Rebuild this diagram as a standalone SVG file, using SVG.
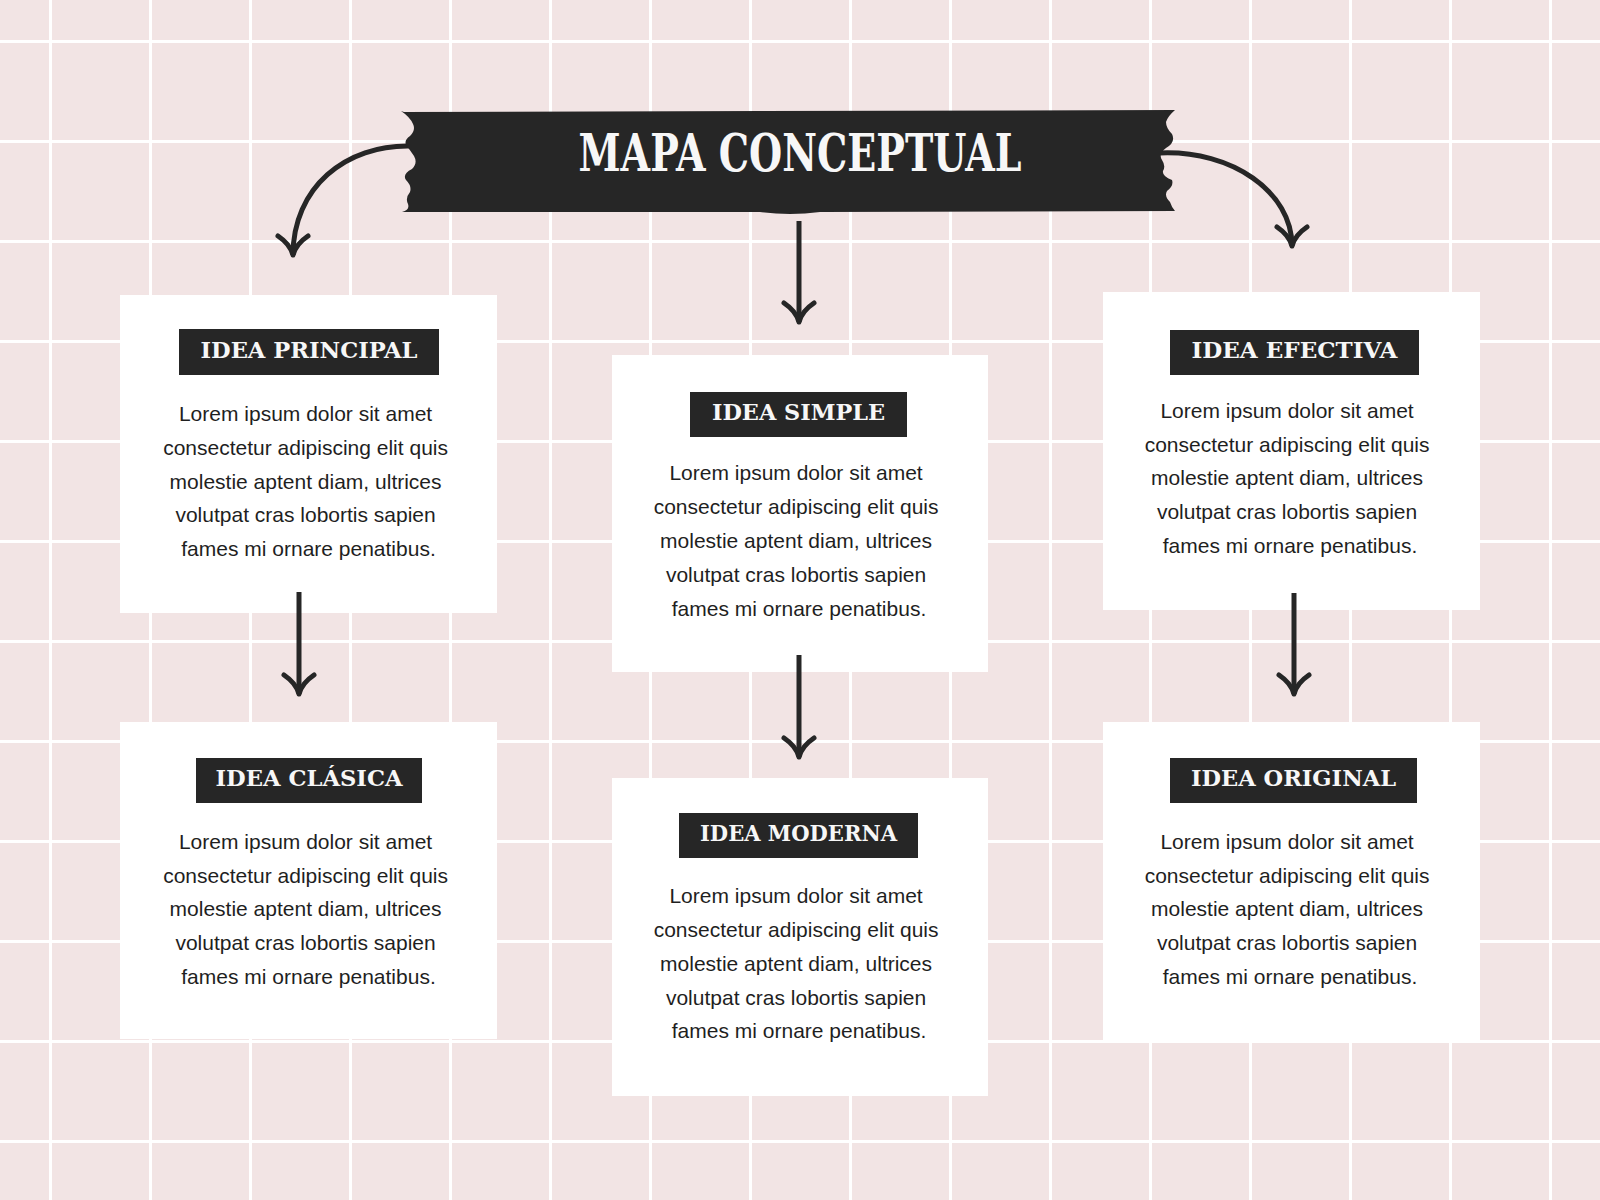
<svg xmlns="http://www.w3.org/2000/svg" width="1600" height="1200" viewBox="0 0 1600 1200">
  <style>
    .bg { fill: #F2E4E4; }
    .grid line { stroke: #FFFFFF; stroke-width: 3; }
    .card { fill: #FFFFFF; }
    .tag { fill: #262626; }
    .tagtext { font-family: "DejaVu Serif", "Liberation Serif", serif; font-weight: bold; font-size: 23px; fill: #F7F7F7; text-anchor: middle; }
    .body { font-family: "Liberation Sans", Arial, sans-serif; font-size: 21px; fill: #1F1F1F; text-anchor: middle; }
    .title { font-family: "DejaVu Serif", "Liberation Serif", serif; font-weight: bold; font-size: 52px; fill: #F7F7F7; text-anchor: middle; }
    .conn { fill: none; stroke: #262626; stroke-width: 5; stroke-linecap: butt; }
  </style>
  <defs>
    <marker id="head" markerUnits="userSpaceOnUse" markerWidth="40" markerHeight="40" viewBox="-24 -20 30 40" refX="0" refY="0" orient="auto">
      <path d="M -19 -15 Q -11 -3 0 0 Q -11 3 -19 15" fill="none" stroke="#262626" stroke-width="5" stroke-linecap="round" stroke-linejoin="round"/>
    </marker>
  </defs>

  <rect class="bg" x="0" y="0" width="1600" height="1200"/>

  <g class="grid">
    <line x1="50.5" y1="0" x2="50.5" y2="1200"/>
    <line x1="150.5" y1="0" x2="150.5" y2="1200"/>
    <line x1="250.5" y1="0" x2="250.5" y2="1200"/>
    <line x1="350.5" y1="0" x2="350.5" y2="1200"/>
    <line x1="450.5" y1="0" x2="450.5" y2="1200"/>
    <line x1="550.5" y1="0" x2="550.5" y2="1200"/>
    <line x1="650.5" y1="0" x2="650.5" y2="1200"/>
    <line x1="750.5" y1="0" x2="750.5" y2="1200"/>
    <line x1="850.5" y1="0" x2="850.5" y2="1200"/>
    <line x1="950.5" y1="0" x2="950.5" y2="1200"/>
    <line x1="1050.5" y1="0" x2="1050.5" y2="1200"/>
    <line x1="1150.5" y1="0" x2="1150.5" y2="1200"/>
    <line x1="1250.5" y1="0" x2="1250.5" y2="1200"/>
    <line x1="1350.5" y1="0" x2="1350.5" y2="1200"/>
    <line x1="1450.5" y1="0" x2="1450.5" y2="1200"/>
    <line x1="1550.5" y1="0" x2="1550.5" y2="1200"/>
    <line x1="0" y1="41.5" x2="1600" y2="41.5"/>
    <line x1="0" y1="141.5" x2="1600" y2="141.5"/>
    <line x1="0" y1="241.5" x2="1600" y2="241.5"/>
    <line x1="0" y1="341.5" x2="1600" y2="341.5"/>
    <line x1="0" y1="441.5" x2="1600" y2="441.5"/>
    <line x1="0" y1="541.5" x2="1600" y2="541.5"/>
    <line x1="0" y1="641.5" x2="1600" y2="641.5"/>
    <line x1="0" y1="741.5" x2="1600" y2="741.5"/>
    <line x1="0" y1="841.5" x2="1600" y2="841.5"/>
    <line x1="0" y1="941.5" x2="1600" y2="941.5"/>
    <line x1="0" y1="1041.5" x2="1600" y2="1041.5"/>
    <line x1="0" y1="1141.5" x2="1600" y2="1141.5"/>
  </g>

  <g id="node-principal">
    <rect class="card" x="120" y="295" width="377" height="318"/>
    <rect class="tag" x="179" y="329" width="260" height="46"/>
    <text class="tagtext" x="309" y="358" textLength="217" lengthAdjust="spacingAndGlyphs">IDEA PRINCIPAL</text>
    <text class="body">
      <tspan x="308.5" y="421">Lorem ipsum dolor sit amet</tspan>
      <tspan x="308.5" y="455">consectetur adipiscing elit quis</tspan>
      <tspan x="308.5" y="489">molestie aptent diam, ultrices</tspan>
      <tspan x="308.5" y="522">volutpat cras lobortis sapien</tspan>
      <tspan x="308.5" y="556">fames mi ornare penatibus.</tspan>
    </text>
  </g>

  <g id="node-simple">
    <rect class="card" x="612" y="355" width="376" height="317"/>
    <rect class="tag" x="690" y="392" width="217" height="45"/>
    <text class="tagtext" x="798.5" y="420" textLength="173" lengthAdjust="spacingAndGlyphs">IDEA SIMPLE</text>
    <text class="body">
      <tspan x="799" y="480">Lorem ipsum dolor sit amet</tspan>
      <tspan x="799" y="514">consectetur adipiscing elit quis</tspan>
      <tspan x="799" y="548">molestie aptent diam, ultrices</tspan>
      <tspan x="799" y="582">volutpat cras lobortis sapien</tspan>
      <tspan x="799" y="616">fames mi ornare penatibus.</tspan>
    </text>
  </g>

  <g id="node-efectiva">
    <rect class="card" x="1103" y="292" width="377" height="318"/>
    <rect class="tag" x="1170" y="330" width="249" height="45"/>
    <text class="tagtext" x="1294.5" y="358" textLength="206" lengthAdjust="spacingAndGlyphs">IDEA EFECTIVA</text>
    <text class="body">
      <tspan x="1290" y="418">Lorem ipsum dolor sit amet</tspan>
      <tspan x="1290" y="452">consectetur adipiscing elit quis</tspan>
      <tspan x="1290" y="485">molestie aptent diam, ultrices</tspan>
      <tspan x="1290" y="519">volutpat cras lobortis sapien</tspan>
      <tspan x="1290" y="553">fames mi ornare penatibus.</tspan>
    </text>
  </g>

  <g id="node-clasica">
    <rect class="card" x="120" y="722" width="377" height="317"/>
    <rect class="tag" x="196" y="758" width="226" height="45"/>
    <text class="tagtext" x="309" y="786" textLength="187" lengthAdjust="spacingAndGlyphs">IDEA CLÁSICA</text>
    <text class="body">
      <tspan x="308.5" y="849">Lorem ipsum dolor sit amet</tspan>
      <tspan x="308.5" y="883">consectetur adipiscing elit quis</tspan>
      <tspan x="308.5" y="916">molestie aptent diam, ultrices</tspan>
      <tspan x="308.5" y="950">volutpat cras lobortis sapien</tspan>
      <tspan x="308.5" y="984">fames mi ornare penatibus.</tspan>
    </text>
  </g>

  <g id="node-moderna">
    <rect class="card" x="612" y="778" width="376" height="318"/>
    <rect class="tag" x="679" y="813" width="239" height="45"/>
    <text class="tagtext" x="798.5" y="841" textLength="197" lengthAdjust="spacingAndGlyphs">IDEA MODERNA</text>
    <text class="body">
      <tspan x="799" y="903">Lorem ipsum dolor sit amet</tspan>
      <tspan x="799" y="937">consectetur adipiscing elit quis</tspan>
      <tspan x="799" y="971">molestie aptent diam, ultrices</tspan>
      <tspan x="799" y="1005">volutpat cras lobortis sapien</tspan>
      <tspan x="799" y="1038">fames mi ornare penatibus.</tspan>
    </text>
  </g>

  <g id="node-original">
    <rect class="card" x="1103" y="722" width="377" height="318"/>
    <rect class="tag" x="1170" y="758" width="247" height="45"/>
    <text class="tagtext" x="1293.5" y="786" textLength="205" lengthAdjust="spacingAndGlyphs">IDEA ORIGINAL</text>
    <text class="body">
      <tspan x="1290" y="849">Lorem ipsum dolor sit amet</tspan>
      <tspan x="1290" y="883">consectetur adipiscing elit quis</tspan>
      <tspan x="1290" y="916">molestie aptent diam, ultrices</tspan>
      <tspan x="1290" y="950">volutpat cras lobortis sapien</tspan>
      <tspan x="1290" y="984">fames mi ornare penatibus.</tspan>
    </text>
  </g>

  <g id="connectors">
    <path class="conn" d="M 412 146 C 345 144 293 188 293 255" marker-end="url(#head)"/>
    <path class="conn" d="M 1160 153 C 1232 150 1292 192 1292 246" marker-end="url(#head)"/>
    <path class="conn" d="M 799 221 L 799 322" marker-end="url(#head)"/>
    <path class="conn" d="M 299 592 L 299 694" marker-end="url(#head)"/>
    <path class="conn" d="M 799 655 L 799 757" marker-end="url(#head)"/>
    <path class="conn" d="M 1294 593 L 1294 694" marker-end="url(#head)"/>
  </g>

  <g id="title">
    <path fill="#262626" d="M 404 112 L 1175 110 Q 1168 116 1166 122 Q 1166 128 1172 134 Q 1176 142 1166 148 Q 1158 154 1162 160 Q 1166 166 1163 171 Q 1162 176 1172 180 Q 1174 186 1167 191 Q 1164 196 1170 202 Q 1172 208 1175 211 L 820 212 Q 790 216 760 212 L 402 212 Q 410 210 408 204 Q 405 198 410 192 Q 412 186 406 180 Q 402 174 412 169 Q 418 163 414 156 Q 410 150 406 145 Q 404 140 410 136 Q 416 130 413 124 Q 410 117 401 111 Z"/>
    <text class="title" x="800" y="171" textLength="443" lengthAdjust="spacingAndGlyphs">MAPA CONCEPTUAL</text>
  </g>
</svg>
